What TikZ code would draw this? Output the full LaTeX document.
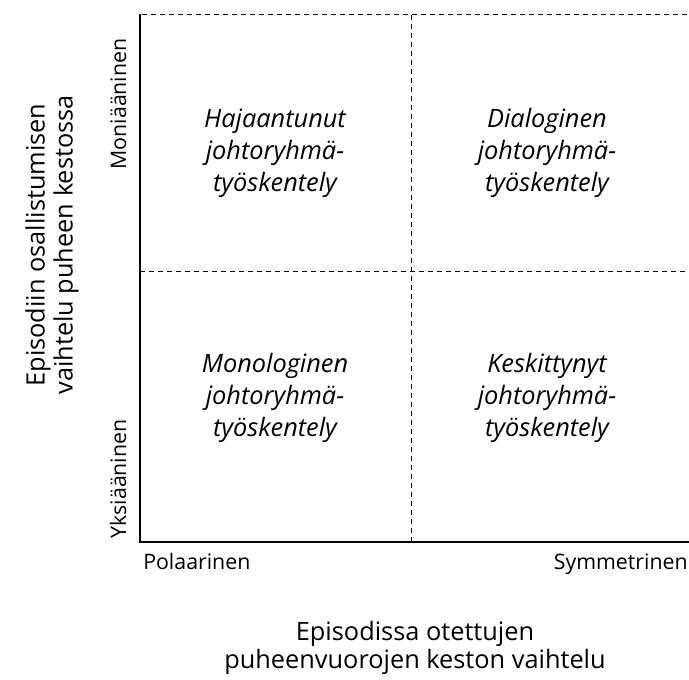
\documentclass[tikz,border=0pt]{standalone}
\usepackage{fontspec}
\setmainfont{Open Sans}
\usetikzlibrary{positioning}

\begin{document}
\begin{tikzpicture}[x=0.75pt,y=-0.75pt,
  axis/.style={line width=1.5pt},
  grid/.style={line width=0.75pt,dash pattern=on 3.75pt off 3pt},
  cell/.style={font=\itshape\fontsize{19}{24}\selectfont,align=center},
  tick/.style={font=\fontsize{16}{18}\selectfont,inner sep=0pt},
  title/.style={font=\fontsize{19}{21}\selectfont,align=center}]
  \useasboundingbox (0,0) rectangle (689,680);

  % corners of the field
  \coordinate (o) at (140,542);
  \coordinate (top) at (140,14);
  \coordinate (end) at (689,542);
  \coordinate (tr) at (689,15);
  \coordinate (ml) at (140,272);
  \coordinate (mr) at (689,272);
  \coordinate (mt) at (411,15);
  \coordinate (mb) at (411,542);

  % dashed split into four
  \draw[grid] (top) ++(2,1) -- (tr);
  \draw[grid] (ml) -- (mr);
  \draw[grid] (mt) -- (mb);
  \draw[axis] (top) -- (o) -- (end);

  % the four cells
  \node[cell] (hajaantunut) at (275,153) {Hajaantunut\\johtoryhmä-\\työskentely};
  \node[cell] (dialoginen) at (547,153) {Dialoginen\\johtoryhmä-\\työskentely};
  \node[cell] (monologinen) at (275,398) {Monologinen\\johtoryhmä-\\työskentely};
  \node[cell] (keskittynyt) at (547,398) {Keskittynyt\\johtoryhmä-\\työskentely};

  % ends of the axes
  \node[tick,anchor=base west] (polaarinen) at (143,570) {Polaarinen};
  \node[tick,anchor=base east] (symmetrinen) at (688,570) {Symmetrinen};
  \node[tick,rotate=90,anchor=base] (moniaaninen) at (126,104) {Moniääninen};
  \node[tick,rotate=90,anchor=base] (yksiaaninen) at (126,479) {Yksiääninen};

  % axis titles
  \node[title] (xlabel) at (415,648) {Episodissa otettujen\\puheenvuorojen keston vaihtelu};
  \node[title,rotate=90] (ylabel) at (52,245) {Episodiin osallistumisen\\vaihtelu puheen kestossa};
\end{tikzpicture}
\end{document}
